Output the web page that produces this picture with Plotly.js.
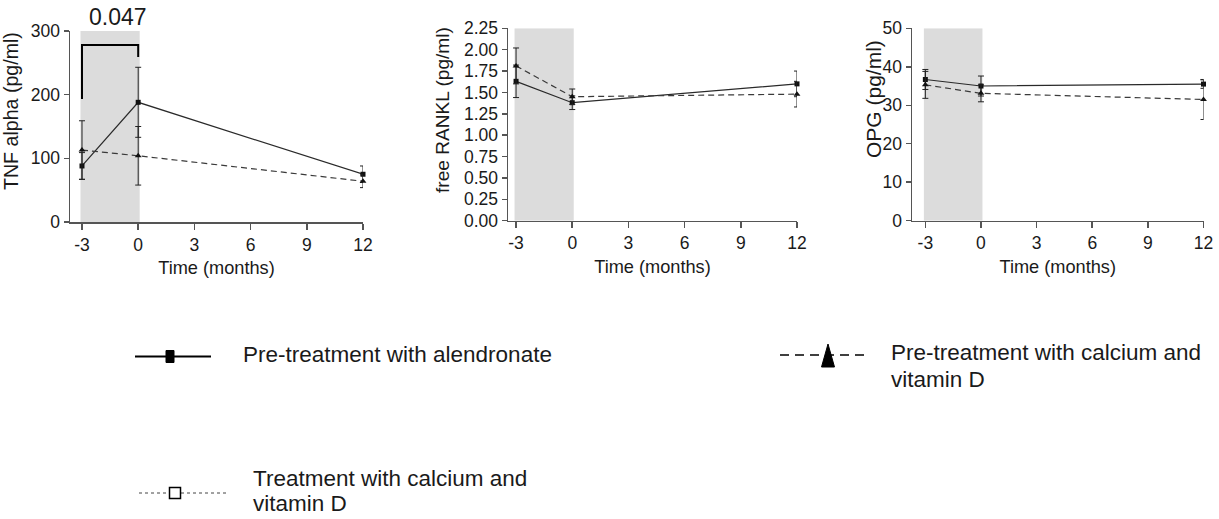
<!DOCTYPE html>
<html>
<head>
<meta charset="utf-8">
<script src="https://cdn.plot.ly/plotly-3.0.1.min.js"></script>
<style>html,body{margin:0;padding:0;background:#fff;}#chart{width:1219px;height:519px;}</style>
</head>
<body>
<div id="chart"></div>
<script>
// ---- data ----
var months = [-3, 0, 12];
var xTicks = [-3, 0, 3, 6, 9, 12];

var tnfAlendronate = [88, 188, 75];
var tnfAlendronateErr = [21, 55, 13];
var tnfCalcium = [113, 104, 64];
var tnfCalciumErr = [46, 46, 10];

var ranklAlendronate = [1.63, 1.38, 1.60];
var ranklAlendronateErr = [0.19, 0.08, 0.15];
var ranklCalcium = [1.81, 1.45, 1.48];
var ranklCalciumErr = [0.21, 0.09, 0.15];

var opgAlendronate = [36.7, 35.0, 35.5];
var opgAlendronateErr = [2.6, 2.6, 1.1];
var opgCalcium = [35.3, 33.1, 31.5];
var opgCalciumErr = [3.5, 2.2, 5.2];

var pValueText = "0.047";
var yTitles = ["TNF alpha (pg/ml)", "free RANKL (pg/ml)", "OPG (pg/ml)"];
var xTitle = "Time (months)";
var legendLabels = ["Pre-treatment with alendronate", "Pre-treatment with calcium and", "vitamin D", "Treatment with calcium and", "vitamin D"];

// ---- layout helpers ----
var W = 1219, H = 519;
function px(x){ return x / W; }
function py(y){ return 1 - y / H; }
var FONT = "Liberation Sans, Arial, sans-serif";
var TXT = "#1a1a1a";

function solidTrace(y, err, xa, ya){
  return {x: months, y: y, xaxis: xa, yaxis: ya, type: "scatter", mode: "lines+markers",
    line: {color: "#2a2a2a", width: 1.2},
    marker: {symbol: "square", size: 5, color: "#111"},
    error_y: {type: "data", array: err, visible: true, color: "#222", thickness: 1, width: 3},
    showlegend: false, cliponaxis: false, hoverinfo: "x+y"};
}
function dashTrace(y, err, xa, ya){
  return {x: months, y: y, xaxis: xa, yaxis: ya, type: "scatter", mode: "lines+markers",
    line: {color: "#3a3a3a", width: 1.2, dash: "6px,4px"},
    marker: {symbol: "triangle-up", size: 6, color: "#111"},
    error_y: {type: "data", array: err, visible: true, color: "#222", thickness: 1, width: 3},
    showlegend: false, cliponaxis: false, hoverinfo: "x+y"};
}

var data = [
  solidTrace(tnfAlendronate, tnfAlendronateErr, "x", "y"),
  dashTrace(tnfCalcium, tnfCalciumErr, "x", "y"),
  solidTrace(ranklAlendronate, ranklAlendronateErr, "x2", "y2"),
  dashTrace(ranklCalcium, ranklCalciumErr, "x2", "y2"),
  solidTrace(opgAlendronate, opgAlendronateErr, "x3", "y3"),
  dashTrace(opgCalcium, opgCalciumErr, "x3", "y3")
];

function xAxis(d0, d1, r0, anchor){
  return {domain: [px(d0), px(d1)], range: [r0, 12], anchor: anchor,
    tickmode: "array", tickvals: xTicks, ticktext: xTicks.map(String),
    showgrid: false, zeroline: false, showline: true, linecolor: "#555", linewidth: 1.5,
    ticks: "outside", ticklen: 6, tickwidth: 1.5, tickcolor: "#555",
    tickfont: {family: FONT, size: 17.5, color: TXT},
    title: {text: xTitle, font: {family: FONT, size: 18.2, color: TXT}, standoff: 8},
    fixedrange: true};
}
function yAxis(d0, d1, r1, dtick, fmt, anchor){
  return {domain: [py(d1), py(d0)], range: [0, r1], anchor: anchor,
    tick0: 0, dtick: dtick, tickformat: fmt,
    showgrid: false, zeroline: false, showline: true, linecolor: "#555", linewidth: 1.5,
    ticks: "outside", ticklen: 5, tickwidth: 1.5, tickcolor: "#555",
    tickfont: {family: FONT, size: 17.5, color: TXT},
    fixedrange: true};
}

var layout = {
  width: W, height: H,
  margin: {l: 0, r: 0, t: 0, b: 0},
  paper_bgcolor: "#fff", plot_bgcolor: "rgba(0,0,0,0)",
  showlegend: false,
  font: {family: FONT, color: TXT},
  xaxis: xAxis(70, 363, -3.64, "y"),
  yaxis: yAxis(31, 222, 300, 100, "d", "x"),
  xaxis2: xAxis(508, 797, -3.43, "y2"),
  yaxis2: yAxis(28.3, 220.7, 2.25, 0.25, ".2f", "x2"),
  xaxis3: xAxis(912, 1203.5, -3.72, "y3"),
  yaxis3: yAxis(28.3, 220.7, 50, 10, "d", "x3"),
  shapes: [],
  annotations: []
};

// y axis titles (placed as rotated text)
[[yTitles[0], 11, 111, 19.6], [yTitles[1], 443, 110, 19.1], [yTitles[2], 874, 99, 21]].forEach(function(t){
  layout.annotations.push({xref: "paper", yref: "paper", x: px(t[1]), y: py(t[2]), text: t[0],
    textangle: -90, showarrow: false, xanchor: "center", yanchor: "middle",
    font: {family: FONT, size: t[3], color: TXT}});
});

// shaded pre-treatment region
[["x","y",300],["x2","y2",2.25],["x3","y3",50]].forEach(function(a){
  layout.shapes.push({type: "rect", xref: a[0], yref: a[1], x0: -3.08, x1: 0.08, y0: 0, y1: a[2],
    fillcolor: "#dcdcdc", line: {width: 0}, layer: "below"});
});

// significance bracket
layout.shapes.push({type: "path", xref: "x", yref: "y",
  path: "M -3 193 L -3 278 L 0 278 L 0 259", line: {color: "#000", width: 2}});
layout.annotations.push({xref: "paper", yref: "paper", x: px(118), y: py(17),
  text: pValueText, showarrow: false, xanchor: "center", yanchor: "middle",
  font: {family: FONT, size: 23, color: TXT}});

// ---- legend (drawn manually) ----
// 1: solid + filled square
layout.shapes.push({type: "line", xref: "paper", yref: "paper", x0: px(135), x1: px(211), y0: py(356.5), y1: py(356.5),
  line: {color: "#000", width: 2}});
layout.shapes.push({type: "rect", xref: "paper", yref: "paper", x0: px(166), x1: px(174), y0: py(362.5), y1: py(350.5),
  fillcolor: "#000", line: {color: "#000", width: 1}});
// 2: dashed + filled triangle
layout.shapes.push({type: "line", xref: "paper", yref: "paper", x0: px(780), x1: px(868), y0: py(355), y1: py(355),
  line: {color: "#000", width: 1.5, dash: "9px,6px"}});
layout.shapes.push({type: "path", xref: "paper", yref: "paper",
  path: "M " + px(821.5) + " " + py(367) + " L " + px(828) + " " + py(344) + " L " + px(834.5) + " " + py(367) + " Z",
  fillcolor: "#000", line: {color: "#000", width: 1}});
// 3: dotted + open square
layout.shapes.push({type: "line", xref: "paper", yref: "paper", x0: px(139), x1: px(226), y0: py(493), y1: py(493),
  line: {color: "#444", width: 1, dash: "dot"}});
layout.shapes.push({type: "rect", xref: "paper", yref: "paper", x0: px(169.5), x1: px(180.5), y0: py(498.5), y1: py(487.5),
  fillcolor: "#fff", line: {color: "#000", width: 1.5}});

function legText(t, x, y){
  layout.annotations.push({xref: "paper", yref: "paper", x: px(x), y: py(y), text: t, showarrow: false,
    xanchor: "left", yanchor: "middle", font: {family: FONT, size: 22.5, color: TXT}});
}
legText(legendLabels[0], 241, 354);
legText(legendLabels[1], 889, 352);
legText(legendLabels[2], 889, 379);
legText(legendLabels[3], 251, 478);
legText(legendLabels[4], 251, 503);

Plotly.newPlot("chart", data, layout, {displayModeBar: false, staticPlot: true});
</script>
</body>
</html>
